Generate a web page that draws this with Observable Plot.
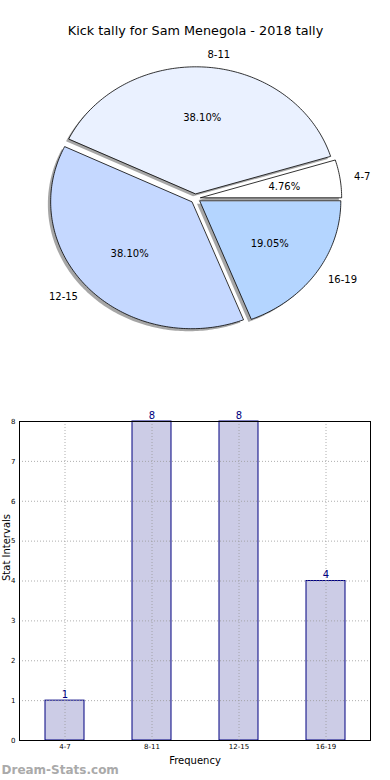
<!DOCTYPE html>
<html>
<head>
<meta charset="utf-8">
<script src="https://cdn.jsdelivr.net/npm/d3@7"></script>
<script src="https://cdn.jsdelivr.net/npm/@observablehq/plot@0.6"></script>
<style>
  html, body { margin: 0; padding: 0; background: #fff; }
  #chart svg { display: block; }
</style>
</head>
<body>
<div id="chart"></div>
<script>
const titleText = "Kick tally for Sam Menegola - 2018 tally";
const categories = ["4-7", "8-11", "12-15", "16-19"];
const counts = [1, 8, 8, 4];
const sliceColors = ["#ffffff", "#eaf1ff", "#c5d8ff", "#b4d5ff"];
const yTicks = [0, 1, 2, 3, 4, 5, 6, 7, 8];
const xLabel = "Frequency";
const yLabel = "Stat Intervals";
const watermark = "Dream-Stats.com";

const font = "DejaVu Sans, Verdana, sans-serif";
const explode = 0.037;
const total = d3.sum(counts);

let acc = 0;
const slices = categories.map((c, i) => {
  const a0 = acc / total * 2 * Math.PI;
  acc += counts[i];
  const a1 = acc / total * 2 * Math.PI;
  const am = (a0 + a1) / 2;
  return {
    c, i, a0, a1, am,
    ex: explode * Math.cos(am),
    ey: explode * Math.sin(am),
    pct: (counts[i] / total * 100).toFixed(2) + "%",
    color: sliceColors[i]
  };
});

function wedgePts(s, dx = 0, dy = 0) {
  const pts = [{x: s.ex + dx, y: s.ey + dy}];
  const n = Math.max(8, Math.ceil((s.a1 - s.a0) / (Math.PI / 180)));
  for (let k = 0; k <= n; k++) {
    const t = s.a0 + (s.a1 - s.a0) * k / n;
    pts.push({x: s.ex + dx + Math.cos(t), y: s.ey + dy + Math.sin(t)});
  }
  return pts;
}

const labels = slices.map(s => ({
  text: s.c,
  x: s.ex + 1.1 * Math.cos(s.am),
  y: s.ey + 1.1 * Math.sin(s.am),
  right: Math.cos(s.am) >= 0
}));
const pcts = slices.map(s => ({
  text: s.pct,
  x: s.ex + 0.6 * Math.cos(s.am),
  y: s.ey + 0.6 * Math.sin(s.am)
}));

const pie = Plot.plot({
  width: 390,
  height: 390,
  margin: 0,
  style: {fontFamily: font, background: "#fff", overflow: "visible"},
  x: {domain: [-1, 1], range: [54, 336], axis: null},
  y: {domain: [-1, 1], range: [325, 71], axis: null},
  marks: [
    ...slices.map(s => Plot.line(wedgePts(s, -0.02, -0.02), {
      x: "x", y: "y", curve: "linear-closed",
      fill: "#4d4d4d", fillOpacity: 0.5, stroke: "none"
    })),
    ...slices.map(s => Plot.line(wedgePts(s), {
      x: "x", y: "y", curve: "linear-closed",
      fill: s.color, stroke: "#000", strokeWidth: 0.8, strokeLinejoin: "miter"
    })),
    Plot.text(labels.filter(d => d.right), {x: "x", y: "y", text: "text", textAnchor: "start", fontSize: 10, fill: "#000"}),
    Plot.text(labels.filter(d => !d.right), {x: "x", y: "y", text: "text", textAnchor: "end", fontSize: 10, fill: "#000"}),
    Plot.text(pcts, {x: "x", y: "y", text: "text", fontSize: 10, fill: "#000"}),
    Plot.text([titleText], {frameAnchor: "top", lineAnchor: "middle", dy: 30, fontSize: 12.8, fill: "#000"})
  ]
});

const barData = categories.map((c, i) => ({cat: c, count: counts[i]}));

const bars = Plot.plot({
  width: 390,
  height: 390,
  marginTop: 31,
  marginBottom: 40,
  marginLeft: 19,
  marginRight: 20,
  style: {fontFamily: font, fontSize: "7px", background: "#fff", overflow: "visible"},
  x: {domain: categories, paddingInner: 0.556, paddingOuter: 0.278, label: null, tickSize: 0, tickPadding: 4},
  y: {domain: [0, 8], ticks: yTicks, tickFormat: d => String(d), label: null, tickSize: 0, tickPadding: 4},
  marks: [
    Plot.barY(barData, {x: "cat", y: "count", fill: "#ccccE6", stroke: "#000080", strokeWidth: 1}),
    Plot.ruleY(yTicks, {y: d => d, stroke: "#999", strokeWidth: 0.8, strokeDasharray: "1,2"}),
    Plot.ruleX(categories, {x: d => d, stroke: "#999", strokeWidth: 0.8, strokeDasharray: "1,2"}),
    Plot.frame({stroke: "#000", strokeWidth: 1}),
    Plot.text(barData, {x: "cat", y: "count", text: d => String(d.count), lineAnchor: "bottom", dy: -3, fontSize: 10, fill: "#000080"}),
    Plot.text([xLabel], {frameAnchor: "bottom", lineAnchor: "middle", dy: 20, fontSize: 10, fill: "#000"}),
    Plot.text([yLabel], {frameAnchor: "left", lineAnchor: "middle", dx: -13, rotate: -90, fontSize: 10, fill: "#000"}),
    Plot.text([watermark], {frameAnchor: "bottom-left", textAnchor: "start", lineAnchor: "middle", dx: -18, dy: 30, fontSize: 12, fontWeight: "bold", fill: "#aaa"})
  ]
});

document.getElementById("chart").append(pie, bars);
</script>
</body>
</html>
